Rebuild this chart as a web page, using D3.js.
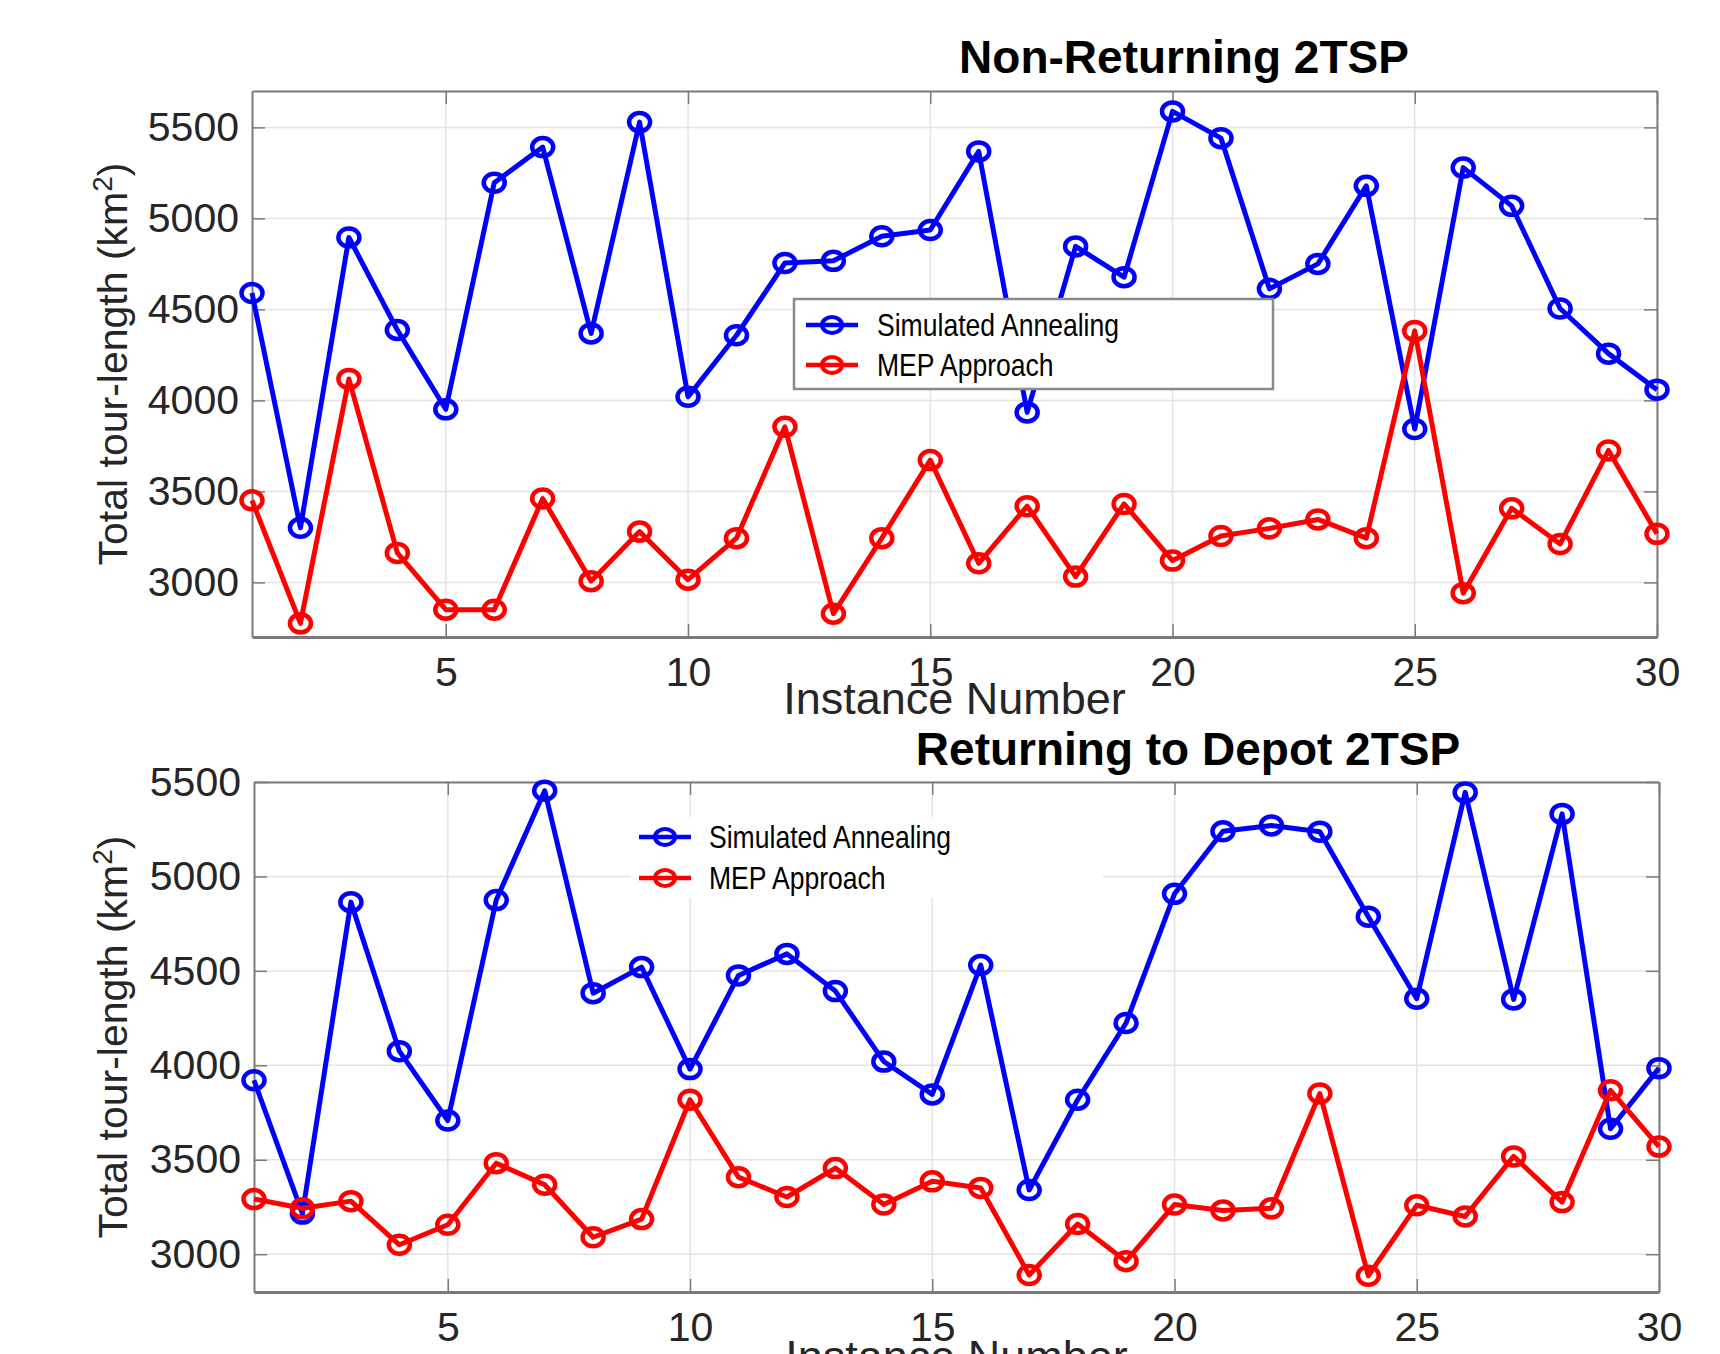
<!DOCTYPE html>
<html>
<head>
<meta charset="utf-8">
<script src="https://cdn.jsdelivr.net/npm/d3@7"></script>
<style>
  body { margin: 0; background: #fff; }
  svg { display: block; font-family: "Liberation Sans", Arial, sans-serif; }
</style>
</head>
<body>
<div id="chart"></div>
<script>
// values
const instances = [1, 2, 3, 4, 5, 6, 7, 8, 9, 10, 11, 12, 13, 14, 15,
                   16, 17, 18, 19, 20, 21, 22, 23, 24, 25, 26, 27, 28, 29, 30];
const xTicks = [5, 10, 15, 20, 25, 30];
const yTicks = [3000, 3500, 4000, 4500, 5000, 5500];
const seriesNames = ['Simulated Annealing', 'MEP Approach'];

const nonReturnSA = [4590, 3300, 4895, 4387, 3951, 5196, 5392, 4368, 5529, 4020,
                     4358, 4755, 4767, 4902, 4936, 5368, 3934, 4846, 4677, 5588,
                     5441, 4613, 4750, 5179, 3843, 5279, 5069, 4505, 4257, 4059];
const nonReturnMEP = [3451, 2775, 4118, 3162, 2850, 2850, 3461, 3007, 3279, 3015,
                      3243, 3855, 2828, 3243, 3672, 3105, 3419, 3032, 3431, 3120,
                      3255, 3297, 3346, 3243, 4382, 2941, 3407, 3211, 3725, 3267];
const depotSA = [3921, 3215, 4864, 4075, 3708, 4875, 5454, 4382, 4520, 3980,
                 4476, 4590, 4393, 4020, 3846, 4531, 3340, 3818, 4224, 4908,
                 5239, 5270, 5237, 4787, 4353, 5445, 4349, 5331, 3664, 3985];
const depotMEP = [3292, 3243, 3281, 3050, 3156, 3482, 3368, 3090, 3186, 3818,
                  3408, 3303, 3456, 3263, 3386, 3351, 2890, 3160, 2963, 3263,
                  3232, 3243, 3851, 2886, 3259, 3200, 3518, 3276, 3868, 3570];

const W = 1720, H = 1354;
const colors = ['#0000ff', '#ff0000'];
const axisGray = '#7a7a7a', textGray = '#262626';

const svg = d3.select('#chart').append('svg')
              .attr('width', W)
              .attr('height', H);

function drawPanel(p) {
    const x = d3.scaleLinear().domain([1, 30]).range([p.left, p.right]);
    const y = d3.scaleLinear().domain(p.yDomain).range([p.bottom, p.top]);
    const g = svg.append('g');

    // grid
    g.selectAll('.vgrid').data(xTicks).enter().append('line')
     .attr('x1', d => x(d)).attr('x2', d => x(d))
     .attr('y1', p.top).attr('y2', p.bottom)
     .attr('stroke', '#e3e3e3').attr('stroke-width', 1.5);
    g.selectAll('.hgrid').data(yTicks).enter().append('line')
     .attr('x1', p.left).attr('x2', p.right)
     .attr('y1', d => y(d)).attr('y2', d => y(d))
     .attr('stroke', '#e3e3e3').attr('stroke-width', 1.5);

    // axes: ticks point inward, labels outside, box on all four sides
    const fmt = d3.format('d');
    const axes = [
        [d3.axisBottom(x).tickValues(xTicks).tickFormat(fmt), `translate(0,${p.bottom})`, 20, 3],
        [d3.axisTop(x).tickValues(xTicks).tickFormat(''), `translate(0,${p.top})`, 0, 2],
        [d3.axisLeft(y).tickValues(yTicks).tickFormat(fmt), `translate(${p.left},0)`, 13, 2],
        [d3.axisRight(y).tickValues(yTicks).tickFormat(''), `translate(${p.right},0)`, 0, 2]
    ];
    axes.forEach(([ax, tr, pad, lw]) => {
        const a = g.append('g').attr('transform', tr)
                   .call(ax.tickSizeInner(-13).tickSizeOuter(0).tickPadding(pad));
        a.select('.domain').attr('stroke', axisGray).attr('stroke-width', lw);
        a.selectAll('.tick line').attr('stroke', axisGray).attr('stroke-width', 1.5);
        a.selectAll('.tick text').attr('fill', textGray).attr('font-size', 41)
         .attr('font-family', '"Liberation Sans", Arial, sans-serif');
    });

    // series
    const line = d3.line().x((d, i) => x(instances[i])).y(d => y(d));
    p.series.forEach((vals, k) => {
        g.append('path').datum(vals)
         .attr('d', line)
         .attr('fill', 'none').attr('stroke', colors[k]).attr('stroke-width', 5)
         .attr('stroke-linejoin', 'round');
        g.selectAll(null).data(vals).enter().append('ellipse')
         .attr('cx', (d, i) => x(instances[i])).attr('cy', d => y(d))
         .attr('rx', 10.5).attr('ry', 9)
         .attr('fill', 'none').attr('stroke', colors[k]).attr('stroke-width', 4.5);
    });

    // legend sits on top of the lines
    const lg = p.legend;
    g.append('rect')
     .attr('x', lg.x).attr('y', lg.y).attr('width', lg.w).attr('height', lg.h)
     .attr('fill', '#fff')
     .attr('stroke', lg.border ? '#8a8a8a' : 'none').attr('stroke-width', 2.5);
    seriesNames.forEach((name, k) => {
        const cy = lg.rowY[k];
        g.append('line')
         .attr('x1', lg.lineX).attr('x2', lg.lineX + 52).attr('y1', cy).attr('y2', cy)
         .attr('stroke', colors[k]).attr('stroke-width', 4.5);
        g.append('ellipse')
         .attr('cx', lg.lineX + 26).attr('cy', cy).attr('rx', 10).attr('ry', 8)
         .attr('fill', 'none').attr('stroke', colors[k]).attr('stroke-width', 4);
        // narrow face: squeeze horizontally
        g.append('text')
         .attr('transform', `translate(${lg.textX},${cy + 11}) scale(0.83,1)`)
         .attr('font-size', 32).attr('fill', '#000')
         .text(name);
    });

    // titles and labels
    g.append('text')
     .attr('x', p.titleX).attr('y', p.titleY)
     .attr('text-anchor', 'middle').attr('font-size', 46).attr('font-weight', 'bold')
     .attr('fill', '#000')
     .text(p.title);
    g.append('text')
     .attr('x', (p.left + p.right) / 2).attr('y', p.xLabelY)
     .attr('text-anchor', 'middle').attr('font-size', 45).attr('fill', textGray)
     .text('Instance Number');
    const yl = g.append('text')
     .attr('transform', `translate(127,${(p.top + p.bottom) / 2}) rotate(-90)`)
     .attr('text-anchor', 'middle').attr('font-size', 41).attr('fill', textGray);
    yl.append('tspan').text('Total tour-length (km');
    yl.append('tspan').attr('dy', -15).attr('font-size', 28).text('2');
    yl.append('tspan').attr('dy', 15).text(')');
}

drawPanel({
    left: 252, right: 1657, top: 91, bottom: 637,
    yDomain: [2700, 5700],
    series: [nonReturnSA, nonReturnMEP],
    title: 'Non-Returning 2TSP', titleX: 1184, titleY: 73,
    xLabelY: 714,
    legend: { x: 794, y: 299, w: 479, h: 90, border: true,
              lineX: 806, textX: 877, rowY: [325, 365] }
});

drawPanel({
    left: 254, right: 1659, top: 782, bottom: 1292,
    yDomain: [2800, 5500],
    series: [depotSA, depotMEP],
    title: 'Returning to Depot 2TSP', titleX: 1188, titleY: 765,
    xLabelY: 1372,
    legend: { x: 631, y: 817, w: 472, h: 81, border: false,
              lineX: 639, textX: 709, rowY: [837, 878] }
});
</script>
</body>
</html>
